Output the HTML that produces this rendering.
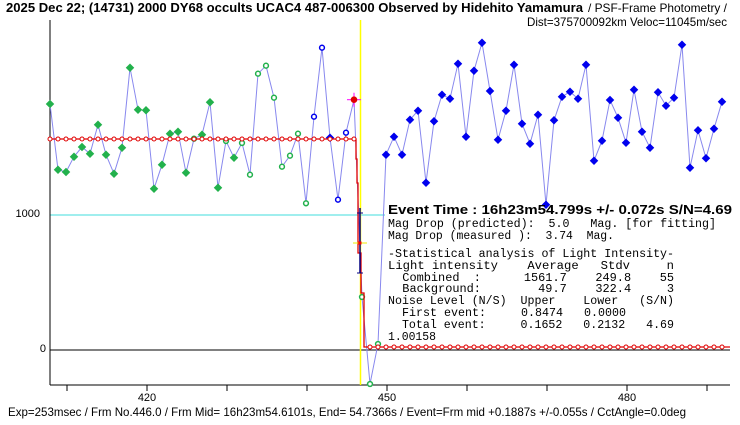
<!DOCTYPE html>
<html><head><meta charset="utf-8"><style>
html,body{margin:0;padding:0;background:#fff;}
svg{display:block;}
text{font-family:"Liberation Sans",sans-serif;}
.m text{font-family:"Liberation Mono",monospace;font-size:11.5px;}
</style></head><body>
<svg id="s" width="740" height="425" viewBox="0 0 740 425" xmlns="http://www.w3.org/2000/svg">
<rect width="740" height="425" fill="#fff"/>
<text x="6" y="12" font-size="13" font-weight="bold" textLength="577" lengthAdjust="spacingAndGlyphs">2025 Dec 22; (14731) 2000 DY68 occults UCAC4 487-006300 Observed by Hidehito Yamamura</text>
<text x="588" y="12" font-size="12" textLength="139" lengthAdjust="spacingAndGlyphs">/ PSF-Frame Photometry /</text>
<text x="727" y="26" font-size="12" text-anchor="end" textLength="200" lengthAdjust="spacingAndGlyphs">Dist=375700092km Veloc=11045m/sec</text>
<line x1="50" y1="215" x2="730" y2="215" stroke="#40dcdc" stroke-width="1"/>
<line x1="50" y1="350" x2="730" y2="350" stroke="#000" stroke-width="1"/>
<line x1="50" y1="20" x2="50" y2="385" stroke="#000" stroke-width="1"/>
<line x1="50" y1="385" x2="730" y2="385" stroke="#000" stroke-width="1"/>
<text x="40" y="217" font-size="11" text-anchor="end">1000</text>
<text x="46" y="352" font-size="11" text-anchor="end">0</text>
<g id="ticks"></g>
<text x="147" y="401" font-size="11" text-anchor="middle">420</text>
<text x="387" y="401" font-size="11" text-anchor="middle">450</text>
<text x="627" y="401" font-size="11" text-anchor="middle">480</text>
<line x1="360.5" y1="20" x2="360.5" y2="385" stroke="#ffff00" stroke-width="1.5"/>
<rect x="385" y="203" width="350" height="141" fill="#fff"/>
<g id="data"></g>
<g id="fit"></g>
<text x="388" y="214" font-size="13" font-weight="bold" textLength="344" lengthAdjust="spacingAndGlyphs">Event Time : 16h23m54.799s  +/- 0.072s  S/N=4.69</text>
<g class="m">
<text x="388" y="227" textLength="328" lengthAdjust="spacingAndGlyphs" xml:space="preserve">Mag Drop (predicted):  5.0   Mag. [for fitting]</text>
<text x="388" y="239" textLength="226" lengthAdjust="spacingAndGlyphs" xml:space="preserve">Mag Drop (measured ):  3.74  Mag.</text>
<text x="388" y="257" textLength="286" lengthAdjust="spacingAndGlyphs" xml:space="preserve">-Statistical analysis of Light Intensity-</text>
<text x="388" y="269" textLength="286" lengthAdjust="spacingAndGlyphs" xml:space="preserve">Light intensity    Average   Stdv     n</text>
<text x="388" y="281" textLength="286" lengthAdjust="spacingAndGlyphs" xml:space="preserve">  Combined  :      1561.7    249.8    55</text>
<text x="388" y="292" textLength="286" lengthAdjust="spacingAndGlyphs" xml:space="preserve">  Background:        49.7    322.4     3</text>
<text x="388" y="304" textLength="286" lengthAdjust="spacingAndGlyphs" xml:space="preserve">Noise Level (N/S)  Upper    Lower   (S/N)</text>
<text x="388" y="316" textLength="238" lengthAdjust="spacingAndGlyphs" xml:space="preserve">  First event:     0.8474   0.0000</text>
<text x="388" y="328" textLength="286" lengthAdjust="spacingAndGlyphs" xml:space="preserve">  Total event:     0.1652   0.2132   4.69</text>
<text x="388" y="340" textLength="48" lengthAdjust="spacingAndGlyphs">1.00158</text>
</g>
<text x="8" y="416" font-size="12" textLength="678" lengthAdjust="spacingAndGlyphs">Exp=253msec / Frm No.446.0 / Frm Mid= 16h23m54.6101s,  End= 54.7366s / Event=Frm mid +0.1887s +/-0.055s / CctAngle=0.0deg</text>
</svg>
<script>
var NS="http://www.w3.org/2000/svg";
function el(p,t,a){var e=document.createElementNS(NS,t);for(var k in a)e.setAttribute(k,a[k]);p.appendChild(e);return e;}
var tk=document.getElementById("ticks");
for(var x=67;x<=730;x+=80){el(tk,"line",{x1:x,y1:385,x2:x,y2:391,stroke:"#000"});}
var Y=[104,169.7,172,156.7,147,153.7,124.7,154.7,173.7,147.7,67.7,109.7,110.3,188.7,164.7,133.7,131.7,172.7,138.7,134.7,102.3,187.7,141,157.7,143,174.7,73.7,65.7,97.7,166.7,155.7,133.7,203.3,116.7,47.7,137.7,199.7,132.7,99.7,297,384,344,
154.7,136.7,154.7,119.7,110.7,182.7,121.3,94.7,98.7,63.7,136.7,70.7,42.7,91,139.7,110.7,64.7,123.7,143.7,114.7,204.7,120.3,96.7,91.7,98.7,64.7,160.7,140.7,100,117.7,142.7,89.7,131.7,147.7,92.3,105.7,97.7,44.7,167.7,130.3,158.3,128.7,101.7];
var d=document.getElementById("data");
var pts=Y.map(function(y,i){return (50+8*i)+","+y;}).join(" ");
el(d,"polyline",{points:pts,fill:"none",stroke:"#8888ee","stroke-width":1});
var f=document.getElementById("fit");
el(f,"polyline",{points:"50,139 356,139 356,159 357,159 357,183 358,183 358,253 361,253 361,293 364,293 364,347 730,347",fill:"none",stroke:"#e00000","stroke-width":1.3});
for(var x=50;x<=354;x+=8)el(f,"circle",{cx:x,cy:139,r:2,fill:"#fff",stroke:"#e00000","stroke-width":1});
for(var x=370;x<=722;x+=8)el(f,"circle",{cx:x,cy:347,r:2,fill:"#fff",stroke:"#e00000","stroke-width":1});
el(f,"line",{x1:360,y1:208,x2:360,y2:273,stroke:"#000080","stroke-width":1.5});
[213,243,273].forEach(function(y){el(f,"line",{x1:357,y1:y,x2:363,y2:y,stroke:y==243?"#ee0":"#000080","stroke-width":1});});
el(f,"line",{x1:353,y1:243,x2:367,y2:243,stroke:"#ee0","stroke-width":1});
el(f,"rect",{x:358.5,y:241.5,width:3,height:3,fill:"#e00"});
var openG={18:1,22:1,24:1,25:1,26:1,27:1,28:1,29:1,30:1,31:1,32:1,39:1,40:1,41:1};
Y.forEach(function(y,i){
 var x=50+8*i;
 if(i==38){el(d,"line",{x1:x-7,y1:y,x2:x+7,y2:y,stroke:"#ff00ff"});el(d,"line",{x1:x,y1:y-7,x2:x,y2:y+7,stroke:"#ff00ff"});el(d,"circle",{cx:x,cy:y,r:3.3,fill:"#e00000"});return;}
 var col,open;
 if(i<33||i>=39&&i<=41){col="#22b14c";open=!!openG[i];}
 else if(i<38){col="#0000ee";open=(i!=35);}
 else{col="#0000ee";open=false;}
 if(open)el(d,"circle",{cx:x,cy:y,r:2.4,fill:"#fff",stroke:col,"stroke-width":1.5});
 else el(d,"rect",{x:x-3,y:y-3,width:6,height:6,fill:col,transform:"rotate(45 "+x+" "+y+")"});
});
</script>
</body></html>
